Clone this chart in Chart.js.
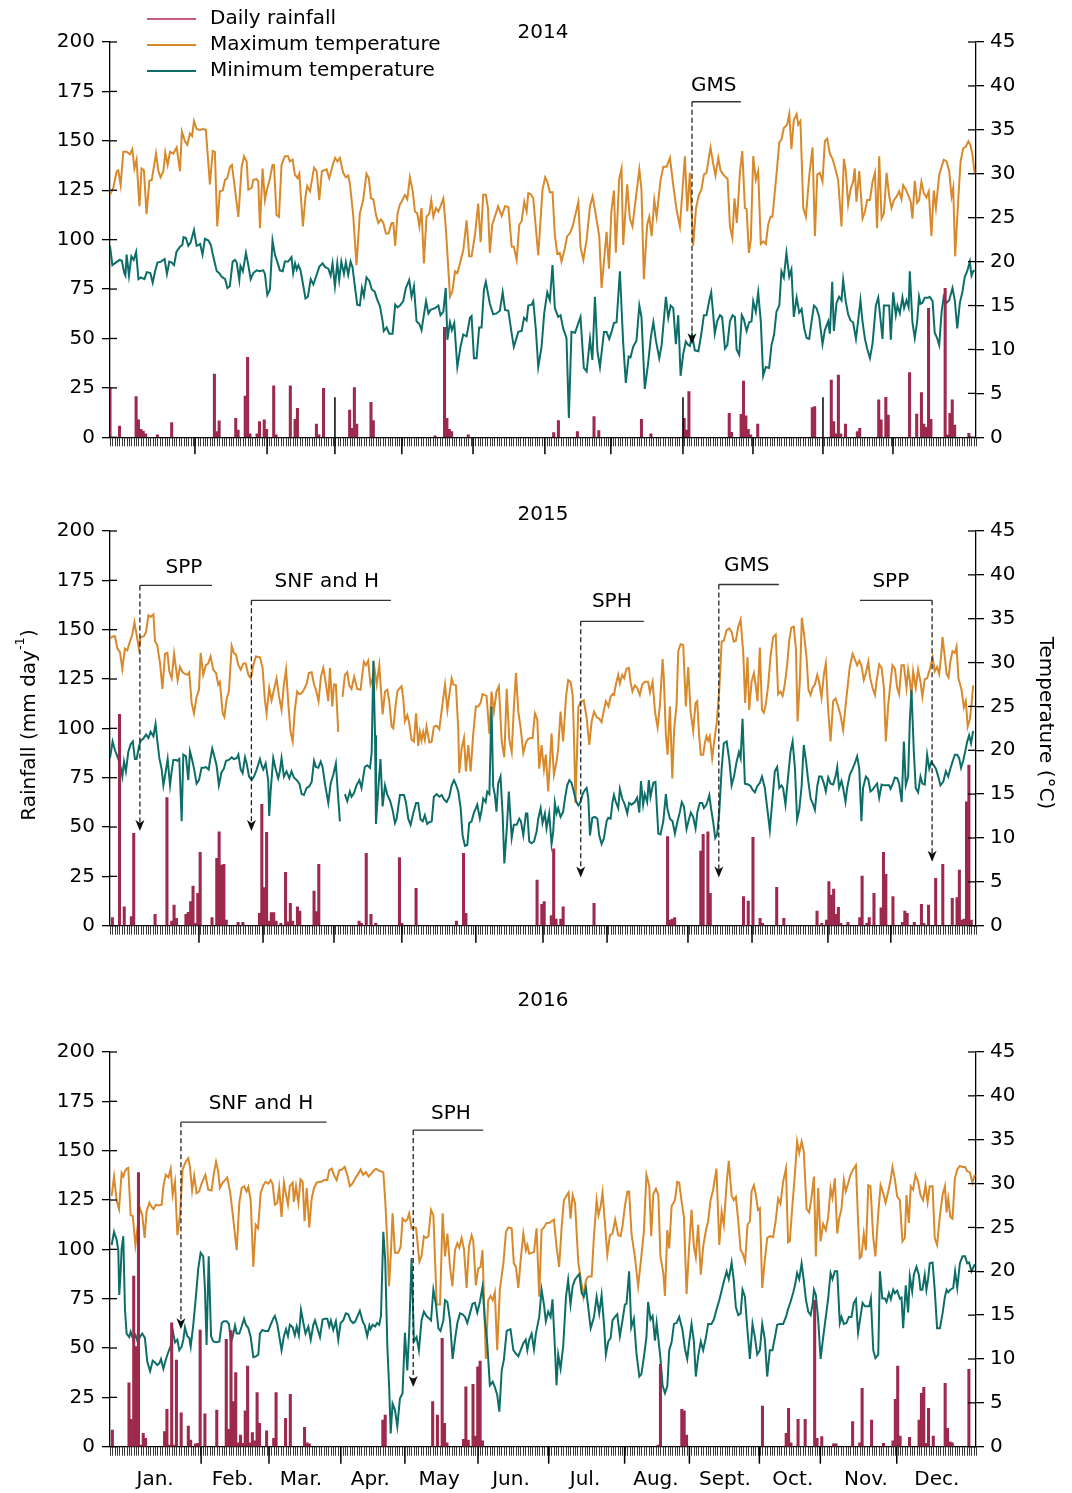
<!DOCTYPE html>
<html><head><meta charset="utf-8">
<script src="https://cdn.jsdelivr.net/npm/chart.js@4.4.1/dist/chart.umd.min.js"></script>
<style>
html,body{margin:0;padding:0;background:#fff}
body{width:1072px;height:1493px;position:relative;overflow:hidden}
canvas{position:absolute;left:0}
</style></head>
<body>
<canvas id="c1" width="1072" height="470" style="top:0"></canvas>
<canvas id="c2" width="1072" height="480" style="top:480px"></canvas>
<canvas id="c3" width="1072" height="528" style="top:965px"></canvas>
<script>
// ---------------- DATA (day of year, value) ----------------
const rain2014 = [[0,25.3],[4,5.7],[11,20.6],[12,8.8],[13,4.0],[14,3.2],[15,1.7],[20,1.2],[26,7.4],[44,32],[45,2.9],[46,8.3],[53,9.6],[54,3.7],[57,20.9],[58,40.5],[59,1.7],[62,1.7],[63,7.9],[65,8.8],[66,4.0],[69,26],[70,1.2],[76,26],[78,9.1],[79,14.7],[87,6.7],[88,1.2],[90,24.8],[101,13.8],[102,4.6],[103,25.1],[104,6.7],[110,17.7],[111,8.4],[137,0.7],[141,55.6],[142,9.6],[143,4.0],[144,2.9],[151,1.2],[187,2.4],[189,8.4],[197,2.9],[204,10.5],[206,3.4],[224,9.1],[228,1.7],[242,9.6],[243,3.7],[244,23.1],[261,12.1],[262,2.5],[266,11.6],[267,28.5],[268,10.8],[269,4.0],[270,1.2],[273,6.7],[296,15.0],[297,15.5],[304,29.0],[305,7.9],[306,1.7],[307,31.5],[308,1.7],[310,6.7],[315,2.9],[316,4.6],[324,18.9],[325,8.8],[327,20.2],[328,11.3],[337,32.7],[340,11.8],[342,22.6],[343,6.7],[344,5.1],[345,65.3],[346,9.1],[352,75.4],[353,1.2],[354,12.1],[355,18.9],[356,6.2],[362,2.0]];

const tmax2014 = [[0,27.6],[1.4,28.4],[2.8,30.3],[3.5,30.4],[4.5,28.7],[5.6,32.5],[7,32.5],[8.4,32.2],[9.4,32.8],[10.3,30.6],[11.2,31.6],[12.4,26.3],[13.3,30.6],[14.3,30.4],[15.4,25.4],[16.6,29.2],[17.6,29.3],[19.4,32.3],[20.4,30.3],[21.3,29.6],[22.5,30.3],[23.3,32.4],[24.3,31.0],[25.3,32.5],[26.7,32.3],[28.1,33.0],[29.5,30.3],[30.3,34.8],[31.6,33.7],[32.6,33.3],[33.7,34.6],[34.6,34.3],[35.4,36.0],[36.5,35.1],[37.9,35.0],[39.3,35.1],[40.4,35.0],[42.1,28.8],[43.3,32.6],[44.2,32.5],[45.2,24.0],[46.3,28.0],[47.5,28.1],[48.5,29.3],[49.4,29.5],[50.6,30.8],[51.4,31.0],[52.7,28.2],[54.1,25.1],[55.5,30.8],[56.5,32.0],[57.6,31.4],[58.3,28.2],[59.7,28.4],[60.4,29.3],[61.8,29.4],[62.5,29.1],[63.2,23.8],[64.3,30.6],[65.3,27.0],[66.0,28.0],[67.4,29.5],[68.5,31.0],[69.1,31.0],[70.2,25.3],[71.2,25.1],[72.3,31.0],[73.7,32.0],[75.1,32.0],[75.8,31.4],[77,31.6],[77.9,29.9],[79.1,29.5],[79.8,30.0],[81.3,24.0],[82.4,27.4],[83.1,28.6],[84.3,28.0],[86.0,30.7],[87.1,30.3],[88.2,27.0],[89.3,30.3],[90.3,30.4],[91.3,30.5],[92.4,29.5],[94.1,31.2],[94.9,31.8],[95.9,31.4],[96.9,31.8],[98.3,30.1],[99.4,29.6],[100.4,29.8],[101.1,28.9],[102.5,25.3],[103.9,19.6],[105.3,25.5],[106.7,27.0],[108.1,30.0],[109.1,29.5],[110.0,27.2],[111.0,27.1],[112.1,25.3],[113.1,24.4],[114.2,24.8],[115.2,24.4],[116.3,23.2],[117.4,23.2],[118.7,24.4],[119.4,24.4],[120.2,21.8],[121.2,25.5],[122.2,26.5],[122.9,26.8],[124.3,27.6],[125.3,27.1],[126.4,29.6],[127.6,28.0],[128.5,25.7],[129.5,25.5],[130.4,24.0],[131.3,26.1],[132.3,19.8],[133.4,25.1],[134.6,25.5],[135.4,27.0],[136.3,25.1],[137.4,26.1],[138.4,25.7],[139.3,26.3],[140.5,27.2],[141.6,23.6],[143.3,16.0],[144.3,16.6],[145.4,18.9],[146.4,18.7],[147.5,19.8],[148.9,21.3],[150.3,24.7],[151.4,20.6],[152.4,20.6],[153.8,23.0],[155.2,26.6],[156.2,22.2],[157.3,27.6],[158.4,27.6],[159.3,26.1],[160.1,21.0],[161.1,24.2],[162.2,25.1],[163.6,26.3],[165.1,25.2],[166.5,26.3],[167.9,26.2],[169.3,21.7],[170.2,21.7],[171.4,20.2],[172.5,24.2],[173.5,24.6],[174.6,26.8],[175.6,25.7],[176.3,27.8],[177.3,27.7],[178.4,27.2],[180.5,20.7],[182.3,28.2],[183.4,29.6],[184.3,29.1],[185.4,27.9],[186.5,27.9],[187.5,23.0],[188.5,20.9],[189.6,21.0],[190.3,20.0],[191.7,21.5],[192.7,22.9],[193.8,23.2],[195,24.0],[197.4,26.8],[198.3,21.7],[199.5,20.2],[200.9,22.5],[202.3,26.3],[203.4,27.4],[204.4,25.9],[206.2,22.9],[207.2,17.0],[209.3,23.4],[210.3,19.2],[211.3,25.7],[212.4,28.1],[213.2,21.0],[214.6,29.4],[215.6,30.6],[216.3,21.9],[218,28.8],[219.1,24.9],[220.2,24.0],[221.7,27.4],[223.1,30.5],[224,28.2],[225,18.0],[226.4,24.2],[227.3,25.1],[228.3,22.9],[229.4,27.0],[230.4,25.1],[232,29.2],[233.2,30.8],[234.6,30.8],[236,31.8],[237.4,28.7],[238.8,25.9],[240.2,24.0],[242.3,32.0],[243.3,25.7],[244.4,30.1],[245.8,21.8],[247,26.1],[248.2,27.6],[249.3,28.2],[250.3,29.9],[251.4,30.1],[253.1,33.0],[254.2,31.2],[255.2,29.8],[256.4,31.8],[257.3,30.4],[258.5,29.9],[260.3,29.4],[261.3,24.0],[262.3,22.7],[263.2,27.2],[264.2,24.4],[265.5,30.1],[266.5,32.6],[267.6,26.1],[268.3,26.0],[269.3,21.0],[270.1,22.5],[271.1,32.0],[272.2,29.3],[273.2,30.3],[274.3,22.0],[275.3,22.3],[276.4,22.0],[277.4,24.2],[278.4,25.1],[279.2,25.1],[280.9,29.9],[282.1,33.6],[283,33.9],[284,35.2],[285.4,35.6],[286.3,36.8],[287.2,32.8],[288.2,36.1],[289.4,36.8],[290.1,35.6],[291,36.0],[292.2,26.1],[293.3,25.1],[294.7,29.7],[296.1,33.0],[297.1,22.9],[298.1,29.9],[299.2,30.1],[300.3,29.1],[301.3,33.7],[302.3,34.0],[303.4,32.3],[304.5,31.7],[305.5,30.8],[306.9,29.3],[308.3,24.0],[309.3,31.7],[310.1,30.4],[311.1,26.5],[312.1,28.2],[313.2,29.1],[313.9,30.6],[314.6,26.8],[315.8,30.3],[317.2,24.9],[318.2,25.7],[319.1,27.0],[320.3,27.0],[321.4,29.1],[322.4,30.1],[323.3,23.8],[324.2,32.0],[325.2,24.9],[326.2,25.5],[327.3,30.1],[328.4,27.5],[329.4,26.1],[330.4,27.0],[331.5,27.4],[332.6,28.0],[333.6,27.1],[334.3,28.7],[335.4,28.2],[336.4,27.6],[337.5,26.8],[338.2,24.9],[339.2,29.2],[340.2,26.7],[341,27.0],[342,29.1],[343,27.8],[344.1,27.3],[345.1,28.0],[346.2,22.9],[347.2,28.1],[348.1,26.1],[349.5,29.9],[350.5,30.8],[351.4,31.6],[352.6,31.4],[353.7,30.3],[354.7,27.4],[355.4,28.4],[356.2,20.6],[357.5,27.0],[358.5,31.4],[359.6,32.9],[360.7,33.1],[361.8,33.7],[362.7,33.2],[363.5,32.2],[364.4,30.1]];

const tmin2014 = [[0,21.8],[1,19.6],[3,20.0],[4,20.2],[5,20.1],[6,18.7],[6.5,18.4],[7,20.8],[8,18.4],[9,20.6],[10,20.2],[11,21.1],[12,18.0],[13,18.2],[14.5,18.0],[15.5,18.8],[17,18.7],[18,17.6],[19,18.9],[20,19.9],[21.5,20.0],[23,20.3],[24,18.6],[25,20.0],[26,19.9],[27,19.6],[28,21.1],[29.5,21.7],[30.5,21.9],[31,22.8],[32,22.7],[33,21.8],[34,22.2],[35.4,23.6],[36.5,21.8],[38,22.0],[39,20.8],[40,22.6],[41.5,22.4],[42.5,21.9],[43.5,20.6],[45,18.9],[46,18.7],[47,18.3],[48.5,18.0],[49.5,17.0],[50.5,17.2],[51.7,20.0],[52.7,20.2],[53.4,19.9],[54.5,17.9],[55,19.5],[56,18.9],[56.5,19.7],[57.3,21.0],[58.3,19.6],[59.3,18.0],[60.4,18.7],[61.8,19.0],[63,18.9],[64.6,19.0],[65.3,18.6],[66.3,16.2],[67.4,16.8],[68.5,22.4],[69.5,20.8],[70.5,20.0],[71.6,19.0],[72.8,18.9],[73.7,20.0],[75.1,20.0],[76.5,20.5],[77.2,18.7],[78,19.8],[78.7,19.1],[79.4,19.6],[80.3,19.0],[81.5,17.2],[82.4,15.8],[83.4,16.0],[84.6,18.0],[85.7,17.4],[87.1,18.5],[88.2,19.4],[89.6,19.8],[90.6,19.4],[92,19.2],[93,18.4],[93.8,19.8],[94.8,17.2],[95.8,19.8],[96.6,17.9],[97.5,20.0],[98.6,18.6],[99.4,19.9],[100.4,18.5],[101.4,20.0],[102.2,19.4],[103.2,17.2],[104.2,15.1],[105.3,15.0],[106.2,17.0],[107,16.1],[108.1,18.2],[109.3,17.8],[110.4,16.8],[111.5,16.6],[112.6,15.7],[113.8,14.9],[114.9,13.2],[115.4,12.1],[116.6,12.5],[117.7,11.8],[119.1,11.8],[120.2,15.1],[121.2,14.8],[122.2,15.0],[123.6,15.5],[124.7,17.0],[126.1,17.9],[127.1,16.0],[128.1,17.2],[129.2,13.2],[130.4,12.9],[131.3,12.2],[133.2,15.5],[134.2,14.1],[135.1,14.5],[137,14.7],[138.4,15.0],[139.3,13.9],[140.5,14.3],[141.5,17.0],[142.2,11.1],[143.3,13.1],[144.1,12.2],[145.1,13.0],[146.4,8.0],[147.8,10.4],[148.9,11.7],[150.3,11.5],[151.7,13.6],[152.4,13.8],[153.4,9.0],[154.5,9.0],[155.6,12.5],[156.6,12.5],[157.6,16.8],[158.4,17.7],[160.1,15.2],[161.5,14.0],[162.9,14.1],[164.3,14.4],[165.5,16.5],[166.5,14.5],[167.9,14.4],[169.3,11.8],[170.2,10.3],[172.1,12.0],[173.5,12.1],[174.5,13.6],[175.6,13.3],[176.3,15.0],[177.7,15.1],[178.4,15.5],[179.5,12.2],[180.5,8.0],[181.9,10.3],[183,14.1],[184.3,16.5],[185.4,15.6],[186.5,19.6],[187.5,14.7],[188.9,13.7],[189.9,13.9],[191,12.4],[192.4,11.3],[193.4,2.2],[194.5,12.0],[196,11.9],[197.4,13.0],[198.3,13.7],[199.7,7.9],[200.9,7.5],[202.3,11.2],[203.3,8.8],[204.4,16.0],[205.4,9.9],[206.5,8.0],[208.2,12.0],[209.3,12.0],[210.4,11.2],[211.4,12.0],[212.4,13.0],[213.5,13.1],[214.9,18.9],[216.3,10.7],[217.4,6.2],[218.6,9.2],[219.4,9.1],[220.5,10.3],[221.9,11.0],[223.1,15.0],[224,13.7],[225.4,5.5],[226.8,8.4],[228,11.5],[229,13.1],[230.1,11.0],[231.5,9.0],[232.5,10.5],[234.3,16.0],[235.3,13.6],[236.3,15.0],[237.4,14.7],[238.5,10.6],[239.5,13.9],[240.5,7.0],[241.6,9.5],[242.7,10.9],[243.7,10.5],[244.4,10.4],[245.3,11.7],[246.5,9.9],[248,9.8],[249.3,11.9],[250.3,13.9],[251.4,13.9],[252.6,15.6],[253.4,16.5],[254.2,14.1],[254.9,11.8],[255.9,13.2],[257.1,13.9],[258,13.7],[259.2,10.1],[260.2,10.5],[261.3,13.2],[262.4,13.9],[263.4,13.7],[264.1,10.0],[265.2,9.4],[266.3,13.9],[267.2,13.4],[268.3,12.1],[269.4,13.1],[270.4,13.2],[271.1,15.5],[272.2,14.3],[273.2,16.5],[274.3,13.2],[275.3,7.0],[276.4,8.0],[277.8,7.9],[278.8,10.5],[279.9,11.7],[280.9,14.3],[282.1,15.0],[283,18.9],[284,18.2],[285.1,21.0],[286.3,18.3],[287.2,19.1],[288.2,13.7],[289.4,15.9],[290.5,14.2],[291.5,14.6],[292.6,12.4],[293.6,11.3],[294.7,11.2],[295.7,13.2],[296.7,15.0],[297.8,14.7],[298.9,13.7],[300.3,10.6],[301.3,12.2],[302.7,13.2],[303.4,11.8],[304.4,17.7],[305.1,12.1],[306.2,15.3],[307.3,16.0],[308.3,15.6],[309,17.9],[310.1,15.5],[311.1,14.0],[312.1,13.3],[313.2,13.1],[314.4,11.2],[315.3,13.2],[316.3,15.6],[317.2,13.1],[318.2,11.2],[319.1,10.1],[320.3,9.0],[321.4,10.7],[322.8,15.0],[323.8,15.9],[324.8,13.3],[325.6,11.2],[326.2,15.0],[327.3,15.0],[328.4,15.0],[329.1,11.1],[330.1,16.5],[331.2,13.9],[331.9,15.0],[332.9,14.1],[334,15.9],[334.7,14.7],[335.7,15.6],[336.6,14.8],[337.1,18.9],[338.2,13.1],[339.2,11.3],[340.2,13.2],[341,16.0],[341.6,15.2],[342.4,15.3],[343.4,15.9],[344.8,15.9],[345.5,16.0],[346.7,15.5],[347.6,11.9],[348.6,11.3],[349.5,10.5],[350.5,14.3],[351.4,16.0],[352.6,15.3],[353.7,15.6],[355.1,17.0],[356.1,15.5],[357.1,12.4],[358.2,15.3],[359.3,16.6],[360.3,18.3],[361.3,18.9],[362.4,20.0],[363.1,18.4],[363.8,18.9],[364.5,19.0]];

const rain2015 = [[1,4.1],[4,107.1],[6,9.6],[9,4.6],[10,46.8],[19,5.7],[24,64.9],[26,2.4],[27,10.5],[28,3.7],[32,5.7],[33,6.8],[34,12.2],[35,20.1],[36,1.2],[37,16.4],[38,37.2],[43,4.1],[45,34.1],[46,47.6],[47,30.7],[48,31.1],[49,2.9],[54,1.7],[56,1.7],[63,6.3],[64,61.5],[65,19.3],[66,47.3],[67,2.4],[68,6.6],[69,6.6],[70,2.4],[72,1.2],[74,27.0],[75,2.0],[76,11.3],[77,2.4],[79,9.6],[80,7.4],[86,17.6],[87,7.1],[88,31.1],[105,2.4],[106,1.2],[108,36.7],[110,5.7],[112,1.2],[122,34.5],[123,1.2],[129,18.9],[146,2.4],[149,36.7],[150,6.3],[180,23.1],[182,10.8],[183,12.2],[186,5.1],[187,38.9],[188,3.4],[190,3.4],[191,9.6],[204,11.3],[235,45.1],[236,2.9],[237,3.4],[238,4.1],[249,37.8],[250,46.3],[252,47.6],[253,16.4],[267,14.7],[269,12.5],[271,44.8],[274,3.7],[275,1.2],[281,19.4],[284,3.7],[298,7.4],[300,1.2],[302,2.9],[303,22.3],[304,15.5],[305,18.6],[306,5.7],[307,9.3],[308,1.2],[311,1.7],[316,4.1],[317,25.2],[319,1.2],[320,4.1],[322,16.4],[325,9.1],[326,37.2],[327,26.0],[330,14.7],[334,1.7],[335,7.4],[336,6.3],[339,1.7],[342,10.8],[343,1.2],[345,10.5],[348,24.0],[351,31.1],[355,13.9],[357,14.2],[358,28.2],[359,2.9],[360,3.4],[361,62.8],[362,81.4],[363,2.9]];

const tmax2015 = [[0,32.8],[1.4,33.0],[2.1,33.0],[3.1,31.6],[4.2,31.2],[5.2,29.3],[6.3,31.6],[7.3,31.4],[8.4,32.4],[9.4,33.2],[10.3,34.6],[11.2,33.2],[12.2,31.6],[12.9,32.9],[14.3,33.0],[15.2,33.5],[16.2,35.4],[17.1,35.2],[18.3,35.5],[19,32.4],[19.9,32.0],[21.1,29.9],[22.1,27.0],[23.2,31.0],[24.2,31.1],[25,29.0],[26,28.2],[27,31.0],[27.8,29.4],[28.5,28.0],[29.5,29.5],[30.6,28.9],[31.6,28.7],[32.6,28.6],[33.4,28.9],[34.4,25.4],[35.4,24.2],[36.5,26.1],[37.5,26.9],[38.2,31.1],[39.3,28.6],[40.4,29.7],[41.4,29.9],[42.4,30.7],[43.5,29.2],[44.7,28.8],[45.6,27.5],[46.3,27.8],[47.5,24.2],[48.2,23.8],[49.2,25.9],[50.1,26.7],[51.3,31.9],[52.2,31.1],[53.1,30.9],[54.1,29.7],[55.1,29.2],[56.2,29.9],[57.2,29.9],[58.3,28.6],[59.3,28.2],[60.4,29.7],[61.5,30.7],[63.2,30.6],[64.3,29.4],[65.3,25.7],[66,24.2],[67.1,27.1],[68.1,25.7],[69.1,26.9],[70.2,28.2],[71.2,26.2],[72.3,24.6],[73.3,27.5],[74.2,29.2],[75.3,24.8],[76.1,22.1],[77,21.0],[77.9,24.6],[78.9,26.7],[79.8,26.4],[80.8,26.5],[81.7,26.9],[82.9,27.6],[83.8,28.8],[85,28.9],[86,27.5],[86.8,26.9],[87.9,25.6],[88.9,28.4],[89.9,29.4],[91,27.6],[92,25.6],[92.7,29.4],[93.7,25.0],[94.4,27.5],[95.2,27.5],[96.2,22.1],[97,null],[98,26.1],[99,28.6],[100,28.9],[100.8,27.4],[101.8,27.0],[102.9,28.4],[104.2,27.0],[105.6,26.9],[107,30.1],[107.9,29.7],[108.8,30.2],[109.8,27.5],[110.7,28.2],[111.4,29.5],[112.4,27.5],[113.5,29.7],[114.9,24.1],[115.9,26.7],[116.9,26.9],[117.7,25.6],[118.7,22.7],[119.4,22.5],[120.4,25.2],[121.2,26.8],[122.2,27.1],[122.9,27.3],[123.6,25.9],[124.3,23.3],[125.3,24.0],[126.1,23.1],[127.1,21.2],[128.1,21.0],[129,24.2],[129.9,20.5],[130.6,22.1],[131.3,21.1],[132,22.1],[132.7,21.2],[133.4,22.7],[134.6,20.9],[135.6,21.0],[136.5,22.7],[137.7,22.8],[138.8,22.4],[139.3,23.5],[140.2,25.4],[141.2,27.5],[142.2,24.6],[143,26.3],[144,28.2],[144.7,27.5],[145.8,27.4],[146.8,22.3],[147.2,17.4],[148.2,20.2],[149.2,21.4],[150,17.6],[151,20.6],[152,17.6],[153.1,21.9],[154.2,25.0],[155.2,25.0],[156.2,25.4],[157,26.4],[158.7,26.2],[159.9,21.9],[160.8,26.7],[161.8,24.4],[162.9,26.7],[163.9,27.3],[165.1,21.0],[166.2,19.2],[167.2,27.0],[168.3,21.2],[169.3,19.8],[170.2,24.8],[171.1,28.8],[172.1,24.4],[173.1,22.5],[174.2,19.7],[175.3,20.9],[176.3,21.3],[177.3,21.4],[178.1,21.4],[179.1,24.2],[180.1,23.5],[180.9,17.9],[181.9,20.6],[182.9,17.8],[183.7,19.5],[184.7,15.3],[186.1,21.9],[187.1,17.2],[188.2,18.7],[188.9,20.2],[189.9,24.4],[191,21.0],[192.2,26.1],[193.1,28.0],[194.1,27.8],[195,26.3],[195.5,22.1],[196.2,14.0],[197.4,24.9],[198.3,25.5],[199.7,25.7],[200.9,23.7],[202,20.6],[203,23.3],[204,24.4],[205.1,23.8],[206.2,23.6],[207.2,23.2],[208.2,24.6],[209,25.6],[210.1,25.0],[211,26.1],[211.8,26.4],[212.4,26.3],[213.2,27.5],[214.2,28.6],[214.9,27.6],[215.9,28.6],[216.7,28.2],[217.7,29.3],[218.7,29.4],[219.4,27.8],[220.2,26.7],[221.2,27.4],[222.2,27.1],[223.3,26.3],[224.3,27.5],[225.4,27.8],[226.8,27.8],[227.6,26.6],[228.7,27.8],[229.7,24.4],[230.8,22.6],[231.8,25.2],[232.9,30.4],[233.4,28.4],[234.3,21.7],[235,19.5],[236,25.0],[237,16.8],[237.8,22.5],[238.8,25.2],[239.5,31.3],[240.5,32.1],[241.6,32.0],[242.7,25.0],[243.7,29.5],[244.7,24.4],[245.8,22.2],[246.8,25.4],[247.5,25.6],[248.3,21.7],[249,19.5],[250,19.5],[250.7,20.8],[251.4,21.6],[252.1,21.1],[252.8,21.6],[253.8,19.1],[255,21.7],[255.7,23.1],[256.8,26.9],[257.8,32.4],[258.7,32.5],[259.9,33.7],[261,33.9],[262,33.5],[262.9,32.4],[263.8,32.5],[264.8,34.1],[265.8,34.9],[266.9,31.1],[267.7,25.4],[268.7,30.6],[269.4,24.6],[270.4,27.8],[271.4,28.8],[272.2,27.3],[272.9,25.6],[273.9,31.7],[274.8,24.6],[275.6,24.3],[276.4,25.2],[277.4,27.4],[278.4,30.7],[279.5,32.9],[280.6,33.2],[281.6,26.4],[282.6,26.7],[283.5,26.2],[284.4,27.5],[285.4,29.7],[286.3,32.6],[287.2,34.0],[288.2,34.1],[289.1,31.6],[289.8,23.3],[290.8,28.2],[291.6,35.1],[292.4,33.5],[293.6,30.5],[294.4,26.9],[295.3,26.3],[296.1,27.1],[297.1,27.5],[298.1,28.6],[298.9,27.8],[299.9,26.0],[300.9,28.7],[301.7,29.9],[302.7,24.6],[303.7,21.0],[304.8,25.6],[305.8,25.9],[306.9,25.0],[307.9,24.0],[309,22.3],[310,25.0],[311.1,27.8],[311.8,29.5],[313,31.0],[313.9,30.4],[314.9,29.7],[315.8,30.2],[316.7,29.7],[317.7,28.0],[318.6,28.8],[319.6,30.1],[320.3,28.4],[321.4,27.1],[322.4,26.3],[323.1,27.9],[324.2,29.8],[325.2,29.4],[326.2,27.1],[327,21.0],[328,25.2],[329,27.8],[329.8,29.7],[330.8,29.3],[331.8,27.1],[332.6,26.4],[333.6,29.7],[334.6,29.7],[335.7,27.1],[336.4,29.2],[337.1,28.0],[337.8,26.2],[338.5,29.0],[339.6,27.1],[340.6,29.2],[341.6,27.8],[342.4,26.1],[343.4,28.1],[344.4,28.2],[345.5,29.2],[346.7,30.6],[347.6,29.0],[348.6,29.5],[349.5,28.7],[350.2,30.5],[350.9,32.9],[351.9,30.5],[352.6,28.7],[353.4,28.3],[354.2,30.1],[355.1,31.3],[356.1,31.1],[356.8,31.8],[357.6,28.2],[358.9,26.9],[359.9,24.9],[360.7,25.6],[361.5,22.7],[362.4,23.5],[363.1,25.2],[363.8,27.4]];

const tmin2015 = [[0,19.1],[1.1,21.0],[2.1,20.0],[3.1,19.3],[3.9,18.7],[4.6,17.9],[5.2,17.0],[5.9,18.7],[6.7,17.6],[7.7,19.8],[8.7,20.7],[9.6,21.0],[10.5,19.0],[11.2,19.0],[12.2,20.4],[12.9,21.1],[14,21.3],[15.2,21.8],[16.2,21.4],[17.1,22.1],[18.3,21.6],[19.2,23.0],[19.9,21.2],[20.8,19.1],[21.8,17.8],[22.5,16.0],[23.5,17.6],[24.3,19.0],[25.3,16.0],[26,17.6],[26.7,18.9],[27.8,18.9],[28.4,18.8],[29.2,19.0],[30.2,11.9],[30.9,19.5],[32,19.3],[33,16.6],[33.7,19.9],[34.8,18.7],[35.5,17.8],[36.5,16.2],[37.5,16.6],[38.6,18.0],[39.6,18.0],[40.4,18.1],[41.6,17.8],[42.1,18.7],[43.1,20.2],[43.8,19.5],[44.9,18.3],[45.9,16.0],[47,17.5],[48,17.9],[48.9,18.8],[50.1,18.9],[51.3,19.2],[52.2,19.0],[53.4,19.1],[54.1,19.5],[55.1,17.8],[55.9,17.4],[56.9,19.2],[57.6,18.5],[58.6,17.0],[59.7,16.6],[60.7,17.0],[61.8,17.8],[63.2,19.0],[63.9,18.3],[64.6,17.8],[65.6,18.5],[66.7,16.5],[67.1,12.5],[67.7,15.3],[68.8,19.1],[69.8,17.9],[70.9,16.8],[71.6,17.6],[72.3,19.1],[73.3,17.0],[74.4,17.6],[75.6,16.8],[76.5,17.6],[77.5,16.9],[78.7,16.6],[79.8,16.2],[80.8,15.0],[81.7,14.9],[82.9,15.7],[84,15.9],[85,16.4],[86,18.8],[86.8,18.1],[87.8,18.0],[88.8,18.7],[89.6,18.1],[90.6,16.2],[92,14.0],[93,16.2],[94.1,17.2],[95.2,18.5],[96.1,14.9],[96.9,11.9],[97.5,null],[99,15.0],[100,14.2],[101.1,15.3],[101.8,14.7],[102.8,15.1],[103.9,16.0],[105.1,16.6],[106,15.7],[107.4,18.1],[108.4,18.3],[109.6,18.0],[110.3,19.8],[111,30.2],[111.7,21.7],[112.1,11.6],[113.1,15.7],[114,19.0],[114.9,13.6],[115.9,16.0],[116.9,14.9],[118,14.3],[119.1,13.2],[120.1,11.7],[120.8,12.2],[122.2,14.9],[123.9,14.9],[124.7,14.1],[125.7,12.2],[126.7,11.5],[127.8,12.8],[129,14.0],[129.9,14.0],[130.9,12.1],[131.8,11.9],[132.7,12.6],[133.7,11.6],[134.6,11.8],[135.6,11.9],[136.5,14.7],[137.7,15.0],[138.8,14.7],[139.8,14.9],[140.8,14.4],[141.9,14.1],[143,14.7],[144,16.0],[145,16.6],[145.8,16.1],[146.8,15.3],[147.8,13.4],[148.6,10.3],[149.6,9.1],[150.6,9.2],[151.4,11.7],[152.4,11.9],[153.4,12.9],[154.2,13.4],[154.8,13.8],[155.9,12.2],[156.6,13.1],[157.3,14.5],[158.3,14.1],[159,15.3],[159.9,15.0],[160.8,25.0],[161.5,15.9],[162.2,14.9],[162.9,13.0],[163.6,16.2],[164.6,17.0],[165.5,12.6],[166.2,7.1],[167.2,10.9],[168.1,15.3],[169.3,10.0],[170.2,11.5],[171.4,11.5],[172.5,12.2],[173.2,11.9],[174.2,10.3],[175.3,12.8],[175.9,12.8],[176.7,9.6],[177.7,9.4],[178.7,9.6],[179.8,10.7],[180.5,12.2],[181.5,13.4],[182.3,11.7],[183.3,12.8],[184,11.1],[185.1,12.8],[186.1,9.3],[186.8,10.7],[187.5,14.0],[188.2,12.8],[188.9,13.4],[189.9,12.4],[191,13.0],[191.7,14.4],[192.7,16.0],[193.6,16.6],[194.5,16.3],[195.5,15.3],[196.4,14.2],[197.4,13.7],[198.3,14.1],[199.2,15.0],[200.2,15.5],[200.9,15.7],[201.6,14.5],[202.3,10.3],[203.3,12.3],[204.4,12.4],[205.4,12.2],[206.2,10.3],[207.2,9.3],[208.2,10.0],[209.3,11.9],[210,12.3],[211,12.2],[211.8,14.1],[212.4,14.9],[213.2,14.1],[214.2,13.4],[214.9,15.6],[215.9,14.5],[217,13.8],[218,12.8],[218.8,14.0],[219.8,13.8],[221.2,14.1],[222.2,14.6],[223.1,12.9],[223.8,16.5],[224.7,13.8],[225.4,15.0],[226.4,14.1],[227.1,16.6],[227.8,14.7],[229,16.3],[229.9,16.4],[231.1,10.5],[232,10.4],[233.2,11.9],[234.3,15.0],[234.9,13.4],[236,12.2],[237.1,11.9],[238.1,10.5],[239.1,11.8],[240.2,13.0],[241,14.1],[241.9,13.6],[243,11.0],[244,12.1],[244.8,12.9],[245.8,12.4],[246.8,11.1],[247.6,13.0],[248.6,14.0],[249.6,14.0],[250.3,13.4],[251.4,13.8],[252.6,14.9],[253.3,13.4],[254.2,11.9],[255.1,10.0],[255.9,10.4],[256.8,13.0],[257.8,17.9],[258.7,20.8],[259.9,21.0],[261,18.9],[262,16.0],[263,17.0],[264.1,18.7],[265.1,19.8],[265.8,19.1],[266.6,23.6],[267.6,16.2],[269,16.1],[270,15.9],[270.8,15.5],[271.8,15.2],[272.8,15.9],[273.9,16.3],[274.8,17.0],[276,15.7],[277,13.4],[278.1,10.9],[279.2,14.4],[280.2,17.6],[281.2,18.1],[282.1,15.7],[283,16.0],[283.7,15.7],[284.7,13.8],[285.8,17.0],[286.8,19.8],[287.7,21.0],[288.7,17.9],[289.6,12.1],[290.5,13.2],[291.5,15.9],[292.4,20.6],[293.3,18.9],[294.3,16.5],[295.3,14.5],[296.4,13.8],[297.1,13.2],[298.1,15.9],[298.9,17.0],[299.9,17.0],[300.9,16.2],[301.7,15.3],[302.7,16.9],[303.7,16.2],[304.8,16.1],[305.8,17.0],[306.5,18.1],[307.3,15.7],[308.3,16.5],[309,15.7],[310,14.1],[310.7,15.7],[311.8,17.2],[313,17.9],[313.9,18.5],[314.9,19.3],[315.8,17.9],[316.7,11.9],[317.4,15.7],[318.6,17.0],[319.6,16.7],[320.5,15.3],[321.4,15.5],[322.4,15.9],[323.3,16.2],[324.2,14.6],[325.2,16.1],[326.2,16.0],[327.3,16.0],[328.4,16.0],[329,15.6],[329.8,16.1],[330.8,16.9],[331.8,16.8],[332.6,16.2],[333.7,14.1],[334.6,21.0],[335.4,16.0],[336.4,17.0],[337.1,23.3],[337.8,26.9],[338.8,19.8],[339.6,15.7],[340.6,15.2],[341.6,17.0],[342.4,16.2],[343.4,16.1],[344.4,19.5],[345.3,17.9],[346.2,18.7],[347.2,18.3],[348.1,17.9],[349.1,17.0],[350,16.0],[351.2,16.4],[352.3,17.6],[353.3,17.0],[354.2,17.9],[355.1,18.7],[356.1,19.5],[357.1,19.5],[357.9,19.1],[358.7,18.0],[359.6,18.8],[360.4,19.8],[361.3,21.0],[362.1,21.7],[362.9,20.8],[363.8,22.2]];

const rain2016 = [[1,8.4],[8,32.4],[9,13.9],[10,86.5],[11,50.7],[12,138.9],[13,0.8],[14,6.8],[15,4.2],[23,7.6],[24,18.9],[25,0.8],[26,62.8],[27,0.8],[28,43.9],[30,17.2],[33,10.5],[34,3.4],[36,1.4],[37,1.7],[38,59.1],[40,16.6],[45,18.6],[49,54.4],[50,8.8],[51,58.8],[52,22.8],[53,37.5],[54,2.0],[55,5.9],[56,1.7],[57,18.2],[58,40.9],[59,2.0],[60,7.1],[61,3.0],[62,27.4],[63,11.8],[66,8.1],[69,4.2],[70,27.4],[74,14.4],[76,26.5],[82,9.8],[83,2.0],[84,1.4],[115,13.5],[116,16.0],[136,22.8],[138,16.0],[140,54.9],[141,11.8],[142,2.0],[149,3.7],[150,30.4],[151,3.4],[153,31.6],[154,5.4],[155,40.5],[156,43.4],[157,3.0],[231,0.8],[232,41.7],[241,18.9],[242,18.2],[243,5.9],[275,20.6],[285,6.8],[286,19.4],[287,2.0],[290,13.9],[293,13.9],[297,74.3],[298,4.2],[300,5.1],[305,1.4],[306,1.4],[313,12.7],[316,2.0],[317,29.6],[321,13.5],[326,1.7],[330,3.0],[331,24.0],[332,40.9],[333,5.4],[337,4.7],[341,13.5],[342,27.0],[343,30.1],[344,1.7],[345,19.4],[347,5.4],[352,32.1],[353,9.3],[354,2.5],[355,2.0],[362,39.2]];

const tmax2016 = [[0.7,28.6],[1.7,30.8],[2.8,28.1],[3.8,27.1],[4.9,31.2],[5.6,30.8],[6.3,31.4],[7,31.7],[7.7,31.8],[8.7,26.4],[9.6,26.3],[10.7,23.0],[11.5,24.7],[12.6,27.2],[13.6,26.4],[14.6,23.8],[15.4,26.8],[16.6,27.8],[17.6,27.3],[18.3,27.1],[19.4,27.6],[20.4,27.5],[21.8,27.6],[22.5,29.7],[23.5,31.0],[24.6,30.7],[25.6,31.7],[26.4,28.7],[27.4,30.2],[28.4,24.1],[29.5,26.4],[30.6,31.6],[31.9,32.5],[33,32.9],[33.7,31.9],[34.6,29.2],[35.5,30.9],[36.5,28.9],[37.6,29.1],[38.6,30.0],[40.2,31.0],[41.4,29.3],[42.8,29.2],[43.8,31.2],[44.7,32.5],[45.6,31.4],[46.3,29.5],[47.5,30.1],[48.5,30.4],[49.4,30.7],[50.6,29.1],[51.7,26.6],[52.7,24.1],[53.4,22.4],[54.5,27.8],[55.5,29.5],[56.5,29.7],[57.6,29.1],[58.3,29.6],[59.3,28.1],[60.4,20.5],[61.4,25.3],[62.4,24.9],[63.5,28.9],[64.6,29.8],[65.6,30.2],[66.7,30.0],[67.7,30.4],[68.5,30.0],[69.5,27.6],[70.5,27.8],[71.3,29.5],[72.3,26.2],[73.3,30.1],[74.2,28.7],[75,27.6],[75.8,29.7],[77,30.1],[77.5,27.9],[78.4,29.7],[79.4,27.8],[80.3,30.5],[81.2,30.2],[82,25.7],[82.9,29.5],[84,25.0],[85,28.3],[86,29.5],[87.1,30.1],[88.2,30.2],[89.2,30.2],[90.2,30.4],[91.6,30.4],[92.4,31.5],[93.4,31.7],[94.5,30.9],[95.5,30.4],[96.6,31.5],[97.8,31.6],[98.9,31.9],[100,31.0],[101.1,29.7],[102.2,30.0],[103.4,30.6],[104.6,31.1],[105.6,31.6],[106.7,31.0],[107.9,31.3],[109,30.8],[110.3,31.2],[111.2,31.5],[112.1,31.7],[113.1,31.5],[114,31.4],[115.2,31.3],[116,28.1],[116.9,23.2],[117.6,18.3],[118.4,22.1],[119.1,26.6],[120.1,22.1],[121.5,22.1],[122.5,22.8],[123.3,26.0],[124.5,25.7],[125.3,25.9],[126.1,26.6],[127.1,24.9],[128.1,25.0],[129,24.9],[130.4,21.1],[131.3,21.7],[132.3,24.0],[133.2,23.8],[134.2,24.0],[135.3,27.0],[136.3,26.4],[137.7,16.2],[139.1,16.2],[140.2,26.6],[141.2,21.7],[142.2,24.3],[143.3,20.5],[144.3,18.3],[145.4,22.4],[146.4,23.2],[147.2,22.7],[148.2,23.8],[149.2,22.5],[150.3,18.1],[151.3,22.8],[152.4,24.1],[153.1,23.5],[154.2,18.4],[155.2,20.3],[156.2,20.5],[157,22.4],[158.4,10.0],[159.4,16.7],[160.4,17.2],[161.3,16.7],[162.2,17.6],[163.2,11.0],[164.3,17.9],[165.8,20.9],[166.9,24.5],[167.9,25.0],[169.3,24.9],[170.2,20.9],[171.1,20.5],[172.1,18.1],[173.1,21.3],[174.2,24.3],[175.3,22.4],[175.9,23.0],[176.7,22.0],[177.7,22.1],[178.7,22.2],[179.8,24.9],[180.9,17.1],[181.9,24.7],[182.9,25.0],[184,25.5],[185.1,25.5],[186.1,25.7],[187.1,25.9],[188.2,22.8],[189.3,20.5],[190.3,24.8],[191.3,28.1],[192.4,28.6],[193.3,29.0],[194.1,26.0],[195,28.7],[196,27.8],[196.7,24.3],[197.4,20.9],[198.3,19.4],[199.5,17.1],[200.6,19.0],[201.6,19.4],[203,19.4],[204,24.1],[205.1,28.1],[205.9,26.4],[206.8,27.4],[207.6,29.0],[208.6,25.5],[209.6,21.9],[210.7,24.1],[211.8,24.3],[212.9,25.9],[214.2,24.1],[215.2,24.0],[216,25.1],[217,27.4],[218.1,29.1],[218.8,29.1],[219.8,24.3],[221.2,21.7],[222.6,18.3],[223.8,21.3],[225,24.5],[226.1,31.0],[227.3,29.7],[228.1,24.0],[229,28.8],[230.1,29.4],[231.1,28.7],[232,21.7],[233.2,19.8],[233.9,17.2],[234.9,24.7],[235.7,22.6],[236.7,27.4],[238.1,28.1],[239.1,30.2],[239.9,30.1],[241,27.8],[241.9,26.2],[243,17.4],[244.1,22.8],[245.1,27.0],[246.1,22.8],[246.9,21.6],[247.9,25.3],[249,19.6],[250,22.8],[251.2,24.7],[252.1,25.7],[253.1,28.1],[254.2,29.3],[255.6,31.7],[256.8,23.0],[257.8,26.8],[258.7,25.3],[259.9,30.0],[260.8,32.6],[262,28.6],[262.9,28.1],[263.8,28.5],[264.8,25.7],[265.8,22.4],[266.6,22.1],[267.7,21.1],[268.7,25.3],[269.7,25.7],[270.4,29.1],[271.4,29.8],[272.2,28.7],[273.1,27.0],[273.9,27.2],[274.9,18.1],[276,21.3],[277,23.8],[278.1,24.0],[279.5,23.9],[280.6,25.8],[281.6,28.3],[282.6,27.7],[283.7,30.2],[284.9,31.7],[285.8,23.3],[286.5,23.4],[287.7,27.8],[288.7,31.2],[289.6,34.8],[290.5,33.5],[291.5,34.8],[292.4,33.7],[293.6,27.1],[294.7,26.7],[295.7,28.5],[296.7,30.8],[297.5,21.7],[298.5,29.5],[299.5,23.4],[300.6,25.4],[301.7,24.7],[302.7,26.2],[303.7,29.5],[304.5,28.4],[305.5,30.6],[306.5,24.3],[307.3,26.0],[308.3,27.1],[309.3,30.4],[310.1,29.1],[311.1,30.0],[312.1,31.0],[313.2,31.6],[314.4,32.1],[315.3,25.7],[316,21.5],[316.7,21.7],[317.7,24.3],[318.6,22.4],[319.6,29.8],[320.5,29.7],[321.7,23.8],[322.6,21.7],[323.8,26.6],[324.8,29.8],[325.9,28.9],[326.9,27.8],[328,29.1],[329,30.4],[329.8,31.9],[330.8,30.5],[331.8,28.5],[332.9,28.1],[334,23.4],[335,23.8],[335.7,28.7],[336.7,25.5],[337.5,29.7],[338.5,29.3],[339.5,31.0],[340.6,30.2],[341.6,28.7],[342.7,28.1],[343.7,29.8],[344.6,27.9],[345.5,29.7],[346.7,29.7],[347.6,23.8],[348.6,23.0],[349.8,26.4],[350.9,28.7],[351.9,29.7],[352.6,26.7],[353.3,28.3],[354.2,26.2],[355.1,26.0],[356.1,30.6],[357.1,31.6],[358.2,32.0],[359.3,31.9],[360.4,31.9],[361.3,31.4],[362.4,31.3],[363.5,30.1],[364.5,31.0]];

const tmin2016 = [[0.7,23.0],[1.7,24.5],[2.8,23.6],[3.5,22.4],[3.9,17.3],[4.5,20.0],[4.9,22.6],[5.6,24.0],[6.3,15.7],[7,12.9],[8.1,12.5],[8.7,13.1],[9.8,12.2],[10.8,12.7],[11.7,11.9],[12.6,12.5],[13.6,12.9],[14.7,12.4],[15.7,9.7],[16.9,8.6],[18,9.8],[19,9.6],[19.9,9.3],[20.8,9.5],[21.5,10.0],[22.5,8.9],[23.6,10.0],[24.6,10.8],[25.6,11.5],[26.4,13.3],[27.4,11.9],[28.4,12.2],[29.2,11.0],[30.2,11.4],[30.9,12.2],[31.6,13.6],[32.6,12.6],[33.4,12.4],[34,11.4],[35.1,13.9],[36.2,17.1],[37.2,20.3],[38.2,22.1],[39.3,21.7],[40,18.1],[40.7,11.6],[41.6,21.7],[42.6,12.6],[43.5,12.0],[44.9,11.9],[46.1,12.0],[47.1,14.1],[48,14.3],[49.2,14.3],[50.1,14.0],[51,12.0],[51.7,12.5],[52.7,13.8],[53.4,12.9],[54.5,12.9],[55.5,13.7],[56.5,14.6],[57.3,13.9],[58.3,13.5],[59.3,12.5],[60.4,10.2],[61.5,10.3],[62.5,10.5],[63.2,12.9],[64.2,13.3],[65.3,13.2],[66.7,13.2],[67.7,13.9],[68.8,14.6],[69.5,14.9],[70.5,14.0],[71.3,12.7],[72.3,11.0],[73.3,12.6],[74.2,13.4],[75,12.6],[75.8,13.9],[77,13.6],[77.9,12.7],[78.7,13.7],[79.6,12.7],[80.5,15.6],[81.5,14.1],[82.4,12.9],[83.6,13.7],[84.6,12.2],[85.7,13.9],[86.4,14.4],[87.4,13.5],[88.5,12.5],[89.6,14.5],[90.6,14.6],[91.6,14.6],[92.4,13.7],[93.1,14.4],[94.1,13.3],[95.2,14.3],[96.2,12.2],[97.2,14.1],[98.3,14.4],[99.4,15.2],[100.4,15.1],[101.4,14.4],[102.5,14.1],[103.4,14.3],[104.2,14.8],[105.3,15.5],[106.5,14.3],[107.4,13.8],[108.4,12.6],[109.3,13.8],[109.8,13.4],[110.7,13.9],[111.7,13.7],[112.6,14.1],[113.5,13.9],[114.2,14.9],[115.2,24.5],[116,21.3],[116.9,11.4],[117.7,6.5],[118.3,1.5],[119.1,4.9],[120.1,4.2],[121.1,2.3],[122.2,5.5],[123.3,6.1],[124.3,13.0],[125.3,8.7],[126.1,13.1],[127.1,21.5],[128.1,12.0],[129.2,12.5],[130.2,11.0],[131.3,14.4],[132.3,15.4],[133.4,14.9],[134.6,14.6],[135.3,14.4],[136.3,17.9],[137.4,16.2],[138.4,13.5],[139.3,13.2],[140.5,14.4],[141.2,16.7],[142.2,16.5],[143.3,14.4],[144.4,10.0],[145.4,12.2],[146.4,14.1],[147.5,15.2],[148.6,15.1],[149.6,14.8],[150.6,14.1],[151.7,15.2],[152.8,16.3],[153.8,16.4],[154.8,15.3],[155.9,16.5],[157,18.2],[158,14.5],[159,11.8],[160.1,7.0],[161.3,7.4],[162.2,6.8],[163.2,5.9],[164.1,4.0],[165.1,8.7],[166,9.9],[167.2,13.2],[168.8,13.4],[170,11.0],[171.1,10.6],[172.1,10.3],[173.1,11.0],[174.2,11.8],[175.2,12.2],[175.9,11.0],[176.7,12.2],[177.7,12.9],[178.7,11.1],[179.5,12.9],[180.9,14.8],[181.9,17.9],[182.9,16.2],[183.7,14.3],[184.7,15.4],[185.7,14.8],[186.5,16.8],[187.5,11.4],[188.2,7.0],[188.9,10.5],[189.9,8.9],[191,11.4],[192.2,17.1],[193.1,19.0],[194.1,16.2],[195,18.3],[195.9,19.0],[196.9,19.4],[197.8,19.7],[198.8,17.5],[199.7,17.1],[200.6,18.1],[201.6,15.8],[202.6,13.5],[204,14.8],[205.1,17.1],[206.2,15.2],[207.2,17.3],[208.2,14.0],[209,10.5],[210,12.0],[211,12.4],[211.8,14.4],[212.8,14.8],[213.8,15.1],[214.9,12.6],[216,14.4],[217,16.2],[217.7,16.3],[218.8,20.0],[219.7,13.6],[220.8,14.6],[221.9,10.6],[223.1,8.0],[224,8.3],[225,10.2],[226.1,12.5],[226.8,16.5],[227.8,14.5],[228.7,14.9],[229.7,12.1],[230.4,14.1],[231.2,12.1],[232,10.1],[232.9,7.0],[233.9,6.1],[234.9,6.9],[235.7,11.0],[236.7,11.9],[237.7,14.0],[238.8,14.1],[239.9,14.8],[241.3,13.3],[242.3,11.2],[243.3,10.0],[244.1,11.9],[245.1,14.0],[246.1,12.0],[246.9,8.0],[247.9,10.3],[249,12.0],[250,11.0],[251.2,12.5],[252.1,14.0],[253.5,14.0],[254.5,14.5],[255.6,15.6],[256.8,16.7],[257.8,17.8],[258.7,18.8],[259.9,20.0],[260.8,19.1],[262,21.0],[262.9,19.0],[263.8,15.9],[264.8,15.0],[265.8,15.2],[266.6,17.9],[267.6,17.1],[268.6,13.5],[269.7,10.0],[270.8,14.0],[271.8,12.5],[272.8,10.5],[273.9,11.0],[274.9,14.0],[276,12.2],[277,8.0],[278.1,11.0],[279.2,11.0],[280.2,12.4],[281.2,13.9],[282.3,14.0],[283.7,14.0],[284.9,14.8],[285.8,15.7],[286.8,16.5],[288,17.6],[288.7,18.4],[289.6,19.8],[290.5,19.1],[291.5,20.9],[292.4,19.0],[293.3,16.8],[294.3,15.4],[295.3,15.0],[296.1,16.2],[296.7,17.9],[297.5,17.3],[298.5,14.4],[299.5,10.0],[300.6,12.5],[301.7,14.8],[302.7,16.9],[303.7,19.8],[304.5,19.1],[305.5,20.0],[306.5,20.0],[307.6,14.1],[308.3,14.8],[309.3,14.0],[310.4,14.1],[311.4,14.8],[312.5,14.8],[313.5,16.4],[314.4,16.8],[315.3,13.0],[316.3,14.8],[317.2,16.4],[318.2,16.0],[319.1,16.0],[320,16.0],[320.7,16.9],[321.7,11.0],[322.6,10.1],[323.8,10.5],[324.5,20.0],[325.5,16.9],[326.6,16.9],[327.3,16.5],[328.3,17.5],[329.1,16.8],[330.1,17.9],[330.8,17.5],[331.8,17.8],[332.9,16.9],[333.6,17.0],[334.3,13.5],[335.4,18.4],[336.4,15.3],[337.1,19.4],[338.1,17.7],[338.8,19.6],[339.9,20.5],[340.9,19.6],[341.6,17.9],[342.4,17.9],[343.4,19.6],[344.1,17.9],[344.8,19.1],[345.5,20.9],[346.7,21.0],[347.6,17.9],[348.6,13.5],[349.8,13.5],[350.9,15.2],[351.9,17.1],[352.6,17.9],[353.3,17.6],[354.2,17.9],[355.4,18.1],[356.2,20.0],[357.1,18.1],[358.2,20.9],[359.3,21.7],[360.4,21.7],[361.3,20.9],[362.1,21.0],[363.1,20.0],[364.5,20.8]];

const monthLabels = ['Jan.','Feb.','Mar.','Apr.','May','Jun.','Jul.','Aug.','Sept.','Oct.','Nov.','Dec.'];
const monthLabelDays = [19.0,51.7,80.5,109.7,138.7,169.0,200.2,230.1,259.2,287.8,318.6,348.5];
const majorTicks2014 = [35.8,66.2,94.8,123.0,153.0,183.3,211.1,241.5,271.0,300.5,330.0];
const majorTicks2015 = [37.5,64.5,94.4,123.0,154.2,182.5,209.5,243.6,270.6,302.6,329.1];
const majorTicks2016 = [38.4,67.0,97.3,124.3,155.1,184.9,216.9,244.2,273.7,299.4,331.6];
const seriesLabels = ['Daily rainfall','Maximum temperature','Minimum temperature'];

// ---------------- STYLE ----------------
const RAIN = '#9D2A4D', ORANGE = '#D8892B', TEAL = '#0D6E69';
const FONT = "'DejaVu Sans', sans-serif";
Chart.defaults.font.family = FONT;
Chart.defaults.font.size = 20;
Chart.defaults.color = '#000';

const toXY = a => a.map(p => ({x: p[0], y: p[1]}));

function line(ctx, x0, y0, x1, y1) { ctx.beginPath(); ctx.moveTo(x0, y0); ctx.lineTo(x1, y1); ctx.stroke(); }

const extras = {
  id: 'extras',
  afterDraw(chart, args, o) {
    const ctx = chart.ctx, ca = chart.chartArea;
    const xs = chart.scales.x, yR = chart.scales.y, yT = chart.scales.yT;
    ctx.save();
    ctx.strokeStyle = '#000'; ctx.fillStyle = '#000';
    // inward halves of the y tick marks
    ctx.lineWidth = 1.3;
    yR.ticks.forEach(t => { const p = yR.getPixelForValue(t.value); line(ctx, ca.left, p, ca.left + 7, p); });
    yT.ticks.forEach(t => { const p = yT.getPixelForValue(t.value); line(ctx, ca.right - 8, p, ca.right, p); });
    // daily minor ticks on x axis
    ctx.lineWidth = 0.9; ctx.strokeStyle = '#222';
    for (let d = 0; d <= 365; d++) { const px = Math.round(xs.getPixelForValue(d)) + 0.5; line(ctx, px, ca.bottom, px, ca.bottom + 9); }
    ctx.strokeStyle = '#000'; ctx.lineWidth = 1.5;
    o.major.forEach(d => { const px = xs.getPixelForValue(d); line(ctx, px, ca.bottom, px, ca.bottom + 17); });
    (o.upTicks || []).forEach(d => { const px = xs.getPixelForValue(d); line(ctx, px, ca.bottom - 40, px, ca.bottom); });
    // panel title
    ctx.font = '20px ' + FONT; ctx.textAlign = 'center'; ctx.textBaseline = 'middle';
    ctx.fillText(o.title, (ca.left + ca.right) / 2, o.titleY);
    // annotations
    o.notes.forEach(n => {
      const xa = xs.getPixelForValue(n.ax), x0 = xs.getPixelForValue(n.x0), x1 = xs.getPixelForValue(n.x1);
      const yt = yT.getPixelForValue(n.top), ytip = yT.getPixelForValue(n.tip);
      ctx.strokeStyle = '#333'; ctx.lineWidth = 1.3; ctx.setLineDash([]);
      line(ctx, x0, yt, x1, yt);
      ctx.setLineDash([5, 3]); ctx.strokeStyle = '#222';
      line(ctx, xa, yt, xa, ytip - 8);
      ctx.setLineDash([]);
      ctx.fillStyle = '#111';
      ctx.beginPath(); ctx.moveTo(xa, ytip); ctx.lineTo(xa - 4.5, ytip - 11); ctx.lineTo(xa, ytip - 8); ctx.lineTo(xa + 4.5, ytip - 11); ctx.closePath(); ctx.fill();
      ctx.fillStyle = '#000';
      ctx.fillText(n.label, xs.getPixelForValue(n.lx), yT.getPixelForValue(n.ly));
    });
    // legend
    if (o.legend) {
      ctx.textAlign = 'left';
      chart.data.datasets.forEach((ds, i) => {
        const y = o.legend.y[i];
        ctx.strokeStyle = ds.legendColor; ctx.lineWidth = ds.type === 'bar' ? 1.5 : 2;
        line(ctx, o.legend.x0, y, o.legend.x1, y);
        ctx.fillStyle = '#000';
        ctx.fillText(ds.label, o.legend.tx, y);
      });
    }
    // axis titles
    if (o.axisTitles) {
      const L = o.axisTitles.left, R = o.axisTitles.right;
      ctx.save();
      ctx.translate(L.x, L.y); ctx.rotate(-Math.PI / 2);
      ctx.textAlign = 'left'; ctx.textBaseline = 'middle';
      ctx.font = '20px ' + FONT; const a = L.main, b = L.sup, c = L.end;
      const wa = ctx.measureText(a).width, wc = ctx.measureText(c).width;
      ctx.font = '13px ' + FONT; const wb = ctx.measureText(b).width;
      let x = -(wa + wb + wc) / 2;
      ctx.font = '20px ' + FONT; ctx.fillText(a, x, 0); x += wa;
      ctx.font = '13px ' + FONT; ctx.fillText(b, x, -9); x += wb;
      ctx.font = '20px ' + FONT; ctx.fillText(c, x, 0);
      ctx.restore();
      ctx.save();
      ctx.translate(R.x, R.y); ctx.rotate(Math.PI / 2);
      ctx.textAlign = 'center'; ctx.textBaseline = 'middle'; ctx.font = '20px ' + FONT;
      ctx.fillText(R.text, 0, 0);
      ctx.restore();
    }
    ctx.restore();
  }
};

function makePanel(id, rain, tmax, tmin, o) {
  const axisGrid = {drawOnChartArea: false, drawTicks: true, tickLength: 8, tickColor: '#000', tickWidth: 1.3, color: '#000', lineWidth: 1.3};
  const axisBorder = {display: true, color: '#000', width: 1.3};
  return new Chart(document.getElementById(id), {
    type: 'bar',
    data: {
      datasets: [
        {type: 'bar', label: seriesLabels[0], data: toXY(rain), backgroundColor: RAIN, legendColor: '#B3264F', barThickness: 2.4, yAxisID: 'y', order: 0},
        {type: 'line', label: seriesLabels[1], data: toXY(tmax), borderColor: ORANGE, legendColor: ORANGE, borderWidth: 2, pointRadius: 0, tension: 0, spanGaps: false, yAxisID: 'yT', order: 2},
        {type: 'line', label: seriesLabels[2], data: toXY(tmin), borderColor: TEAL, legendColor: TEAL, borderWidth: 2, pointRadius: 0, tension: 0, spanGaps: false, yAxisID: 'yT', order: 1}
      ]
    },
    options: {
      responsive: false, animation: false, events: [],
      layout: {padding: {top: o.padTop, left: 0, right: 0, bottom: 0}},
      plugins: {legend: {display: false}, tooltip: {enabled: false}, extras: o},
      scales: {
        x: {
          type: 'linear', min: 0, max: 365, offset: false,
          grid: {display: false, drawTicks: false, offset: false},
          border: axisBorder,
          ticks: o.months ? {display: true, autoSkip: false, maxRotation: 0, minRotation: 0, padding: 21, font: {size: 20}, color: '#000', callback: (v, i) => monthLabels[i]} : {display: false},
          afterBuildTicks: s => { if (o.months) s.ticks = monthLabelDays.map(v => ({value: v})); },
          afterFit: s => { s.height = o.xH; }
        },
        y: {
          position: 'left', min: 0, max: 200,
          ticks: {stepSize: 25, padding: 7, color: '#000', font: {size: 20}},
          grid: axisGrid, border: axisBorder,
          afterFit: s => { s.width = 110; }
        },
        yT: {
          position: 'right', min: 0, max: 45,
          ticks: {stepSize: 5, padding: 6, color: '#000', font: {size: 20}},
          grid: axisGrid, border: axisBorder,
          afterFit: s => { s.width = 96; }
        }
      }
    },
    plugins: [extras]
  });
}

makePanel('c1', rain2014, tmax2014, tmin2014, {
  padTop: 42, xH: 32.7, title: '2014', titleY: 33, major: majorTicks2014, upTicks: [94.8, 241.5, 300.5],
  legend: {x0: 147, x1: 196, tx: 210, y: [19, 45, 71]},
  notes: [{label: 'GMS', lx: 254.5, ly: 40.0, x0: 245.3, x1: 265.9, top: 38.2, ax: 245.3, tip: 10.6}]
});
makePanel('c2', rain2015, tmax2015, tmin2015, {
  padTop: 51, xH: 34.3, title: '2015', titleY: 35, major: majorTicks2015,
  axisTitles: {left: {x: 30, y: 245, main: 'Rainfall (mm day', sup: '-1', end: ')'}, right: {x: 1045, y: 243, text: 'Temperature (°C)'}},
  notes: [
    {label: 'SPP', lx: 31.2, ly: 40.8, x0: 12.6, x1: 43.0, top: 38.8, ax: 12.6, tip: 10.8},
    {label: 'SNF and H', lx: 91.4, ly: 39.2, x0: 59.6, x1: 118.4, top: 37.1, ax: 59.6, tip: 10.8},
    {label: 'SPH', lx: 211.5, ly: 36.9, x0: 198.4, x1: 225.0, top: 34.7, ax: 198.4, tip: 5.5},
    {label: 'GMS', lx: 268.4, ly: 41.0, x0: 256.6, x1: 281.9, top: 38.9, ax: 256.6, tip: 5.5},
    {label: 'SPP', lx: 329.1, ly: 39.2, x0: 316.1, x1: 346.5, top: 37.1, ax: 346.5, tip: 7.3}
  ]
});
makePanel('c3', rain2016, tmax2016, tmin2016, {
  padTop: 87, xH: 46.3, title: '2016', titleY: 36, major: majorTicks2016, months: true,
  notes: [
    {label: 'SNF and H', lx: 63.6, ly: 39.1, x0: 29.9, x1: 91.3, top: 37.0, ax: 29.9, tip: 13.4},
    {label: 'SPH', lx: 143.7, ly: 37.9, x0: 127.8, x1: 157.3, top: 36.1, ax: 127.8, tip: 6.8}
  ]
});
</script>
</body></html>
